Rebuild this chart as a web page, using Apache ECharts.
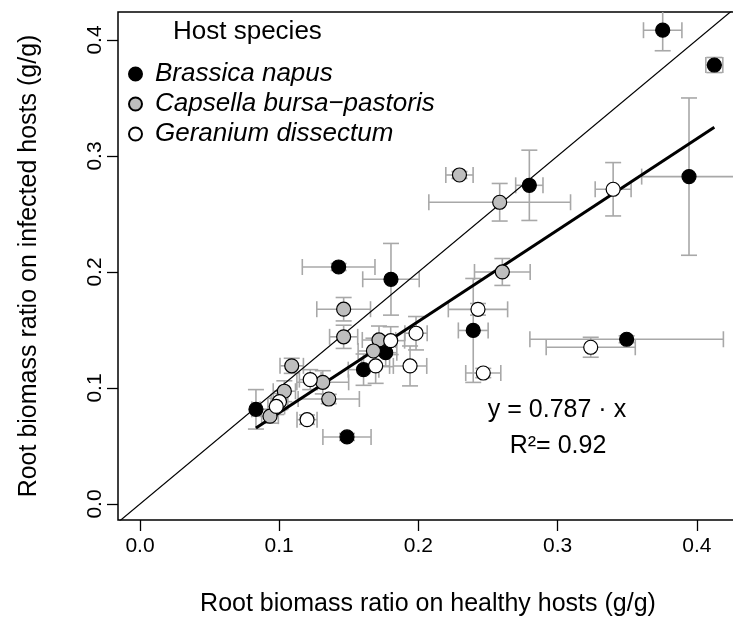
<!DOCTYPE html>
<html>
<head>
<meta charset="utf-8">
<script src="https://cdn.jsdelivr.net/npm/echarts@6/dist/echarts.min.js"></script>
<style>
html,body{margin:0;padding:0;background:#fff;}
#chart{width:733px;height:632px;}
</style>
</head>
<body>
<div id="chart"></div>
<script>
// ---- data ----
const speciesNames = ['Brassica napus', 'Capsella bursa\u2212pastoris', 'Geranium dissectum'];

const napusX    = [0.3755, 0.4126, 0.3944, 0.2797, 0.1427, 0.1803, 0.2394, 0.3496, 0.1765, 0.1606, 0.0833, 0.1487];
const napusY    = [0.4084, 0.3784, 0.2822, 0.2747, 0.2043, 0.1937, 0.1496, 0.1420, 0.1304, 0.1158, 0.0816, 0.0578];
const napusXErr = [0.0138, 0.0061, 0.0340, 0.0098, 0.0261, 0.0203, 0.0107, 0.0695, 0.0080, 0.0110, 0.0030, 0.0173];
const napusYErr = [0.0177, 0.0065, 0.0678, 0.0303, 0.0030, 0.0309, 0.0448, 0.0030, 0.0120, 0.0135, 0.0170, 0.0030];

const capsellaX    = [0.2295, 0.2584, 0.2603, 0.1463, 0.1463, 0.1717, 0.1677, 0.1090, 0.1313, 0.1037, 0.1356, 0.0934];
const capsellaY    = [0.2836, 0.2601, 0.2000, 0.1679, 0.1441, 0.1414, 0.1319, 0.1191, 0.1049, 0.0972, 0.0905, 0.0757];
const capsellaXErr = [0.0098, 0.0509, 0.0200, 0.0193, 0.0101, 0.0120, 0.0110, 0.0084, 0.0186, 0.0080, 0.0220, 0.0060];
const capsellaYErr = [0.0030, 0.0162, 0.0116, 0.0101, 0.0100, 0.0120, 0.0110, 0.0065, 0.0100, 0.0090, 0.0040, 0.0060];

const geraniumX    = [0.3399, 0.2428, 0.1983, 0.1801, 0.1693, 0.1940, 0.2466, 0.3238, 0.1223, 0.1002, 0.0979, 0.1200];
const geraniumY    = [0.2713, 0.1678, 0.1472, 0.1408, 0.1190, 0.1190, 0.1129, 0.1351, 0.1072, 0.0882, 0.0841, 0.0727];
const geraniumXErr = [0.0129, 0.0213, 0.0080, 0.0100, 0.0100, 0.0120, 0.0126, 0.0320, 0.0078, 0.0060, 0.0060, 0.0072];
const geraniumYErr = [0.0230, 0.0050, 0.0144, 0.0120, 0.0150, 0.0172, 0.0040, 0.0086, 0.0086, 0.0070, 0.0070, 0.0040];

const slope = 0.787;
const r2 = 0.92;
const tickValues = [0.0, 0.1, 0.2, 0.3, 0.4];
const xRange = [-0.0158, 0.4296];
const yRange = [-0.0138, 0.4241];

// ---- build ----
function pts(xs, ys) { return xs.map((x, i) => [x, ys[i]]); }
function errs(xs, ys, xe, ye) { return xs.map((x, i) => [x, ys[i], xe[i], ye[i]]); }

const allX = napusX.concat(capsellaX, geraniumX);
const xLo = Math.min.apply(null, allX), xHi = Math.max.apply(null, allX);

const FONT = 'Liberation Sans, Arial, sans-serif';
const ERR_COLOR = '#A8A8A8';
const CAP = 8;

function renderErr(params, api) {
  const x = api.value(0), y = api.value(1), xe = api.value(2), ye = api.value(3);
  const l = api.coord([x - xe, y]), r = api.coord([x + xe, y]);
  const b = api.coord([x, y - ye]), t = api.coord([x, y + ye]);
  const st = { stroke: ERR_COLOR, lineWidth: 1.6, fill: null };
  const line = (x1, y1, x2, y2) => ({ type: 'line', shape: { x1, y1, x2, y2 }, style: st });
  return {
    type: 'group',
    children: [
      line(l[0], l[1], r[0], r[1]),
      line(l[0], l[1] - CAP, l[0], l[1] + CAP),
      line(r[0], r[1] - CAP, r[0], r[1] + CAP),
      line(b[0], b[1], t[0], t[1]),
      line(b[0] - CAP, b[1], b[0] + CAP, b[1]),
      line(t[0] - CAP, t[1], t[0] + CAP, t[1])
    ]
  };
}

const errSeries = [
  errs(napusX, napusY, napusXErr, napusYErr),
  errs(capsellaX, capsellaY, capsellaXErr, capsellaYErr),
  errs(geraniumX, geraniumY, geraniumXErr, geraniumYErr)
].map(d => ({
  type: 'custom', renderItem: renderErr, data: d, z: 2, silent: true,
  clip: true, encode: { x: 0, y: 1 }
}));

const fills = ['#000000', '#BEBEBE', '#FFFFFF'];
const pointData = [pts(napusX, napusY), pts(capsellaX, capsellaY), pts(geraniumX, geraniumY)];
const pointSeries = pointData.map((d, i) => ({
  name: speciesNames[i],
  type: 'scatter',
  data: d,
  symbol: 'circle',
  symbolSize: 14,
  z: 5,
  itemStyle: { color: fills[i], borderColor: '#000', borderWidth: 1.2, opacity: 1 }
}));

const option = {
  animation: false,
  backgroundColor: '#fff',
  grid: {
    left: 118, top: 12, right: -5, bottom: 112,
    outerBoundsMode: 'none', containLabel: false,
    show: true, borderColor: '#000', borderWidth: 1.5, backgroundColor: 'transparent'
  },
  xAxis: {
    type: 'value', min: xRange[0], max: xRange[1],
    axisLine: { show: false, onZero: false },
    axisTick: { show: true, inside: false, customValues: tickValues, length: 11, lineStyle: { color: '#000', width: 1.3 } },
    axisLabel: { customValues: tickValues, formatter: v => v.toFixed(1), fontSize: 21, fontFamily: FONT, color: '#000', margin: 16 },
    splitLine: { show: false },
    name: 'Root biomass ratio on healthy hosts (g/g)',
    nameLocation: 'middle', nameGap: 72,
    nameTextStyle: { fontSize: 25, fontFamily: FONT, color: '#000' }
  },
  yAxis: {
    type: 'value', min: yRange[0], max: yRange[1],
    axisLine: { show: false, onZero: false },
    axisTick: { show: true, inside: false, customValues: tickValues, length: 11, lineStyle: { color: '#000', width: 1.3 } },
    axisLabel: { customValues: tickValues, formatter: v => v.toFixed(1), fontSize: 21, fontFamily: FONT, color: '#000', margin: 12, rotate: 90 },
    splitLine: { show: false },
    name: 'Root biomass ratio on infected hosts (g/g)',
    nameLocation: 'middle', nameGap: 76,
    nameTextStyle: { fontSize: 25, fontFamily: FONT, color: '#000' }
  },
  legend: {
    orient: 'vertical', left: 123, top: 56,
    itemWidth: 13, itemHeight: 13, itemGap: 4,
    icon: 'circle',
    data: speciesNames,
    textStyle: { fontSize: 26, fontStyle: 'italic', fontFamily: FONT, color: '#000', lineHeight: 26, padding: [0, 0, 0, 8] },
    selectedMode: false
  },
  graphic: [
    { type: 'text', left: 173, top: 19, style: { text: 'Host species', font: '26px ' + FONT, fill: '#000' } },
    { type: 'text', x: 557, y: 410, style: { text: 'y = ' + slope + ' \u00b7 x', font: '25px ' + FONT, fill: '#000', textAlign: 'center', textVerticalAlign: 'middle' } },
    { type: 'text', x: 558, y: 446, style: { text: 'R\u00b2= ' + r2.toFixed(2), font: '25px ' + FONT, fill: '#000', textAlign: 'center', textVerticalAlign: 'middle' } }
  ],
  series: errSeries.concat([
    {
      type: 'line', data: [[xRange[0], xRange[0]], [xRange[1], xRange[1]]],
      showSymbol: false, symbol: 'none', clip: true, z: 3, silent: true,
      lineStyle: { color: '#000', width: 1.2 }
    },
    {
      type: 'line', data: [[xLo, slope * xLo], [xHi, slope * xHi]],
      showSymbol: false, symbol: 'none', clip: true, z: 3, silent: true,
      lineStyle: { color: '#000', width: 3 }
    }
  ], pointSeries)
};

const chart = echarts.init(document.getElementById('chart'), null, { renderer: 'canvas' });
chart.setOption(option);
</script>
</body>
</html>
